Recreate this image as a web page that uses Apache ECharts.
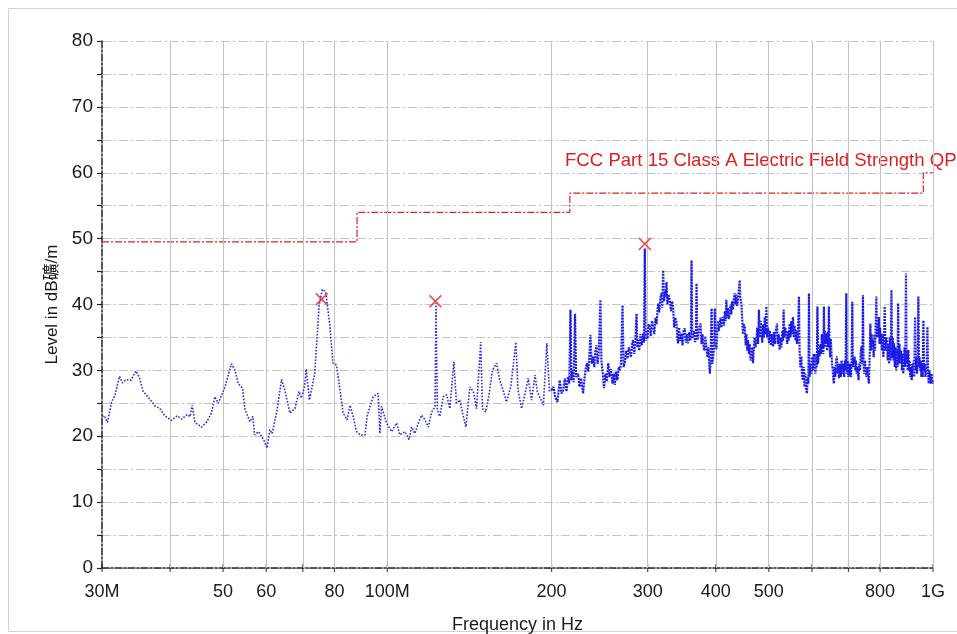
<!DOCTYPE html>
<html><head><meta charset="utf-8">
<script src="https://cdn.jsdelivr.net/npm/echarts@6/dist/echarts.min.js"></script>
<style>html,body{margin:0;padding:0;background:#fff}#c{width:957px;height:634px}</style>
</head><body><div id="c"></div>
<script>
// ---- data (frequency in MHz, level in dBµV/m) ----
const traceLow = [[30.0,23.0],[30.3,23.1],[30.7,22.1],[31.25,25.2],[31.7,26.3],[32.3,29.1],[32.7,28.1],[33.2,28.6],[33.9,28.5],[34.6,29.9],[35.1,29.0],[35.7,26.8],[36.4,26.0],[37.5,24.6],[38.3,24.2],[39.1,23.1],[40.2,22.4],[41.2,23.1],[42.0,22.6],[43.0,23.3],[43.5,23.0],[43.9,24.7],[44.4,22.1],[45.7,21.4],[46.7,22.2],[47.6,23.5],[48.3,26.0],[49.0,25.0],[50.4,27.5],[51.8,31.0],[52.6,30.0],[53.3,28.0],[54.3,27.3],[54.8,24.2],[55.4,23.2],[56.0,22.2],[56.7,23.0],[57.1,20.2],[58.1,20.7],[59.4,19.4],[60.2,18.2],[60.9,21.0],[61.5,20.4],[62.8,24.0],[64.0,28.6],[64.9,27.0],[66.3,23.5],[67.7,24.2],[68.9,26.8],[69.6,25.8],[70.5,27.5],[71.0,30.2],[72.0,25.5],[73.6,29.5],[75.0,39.9],[76.0,42.3],[77.1,41.9],[78.4,37.1],[79.5,31.1],[80.7,30.8],[81.9,27.0],[83.0,23.5],[84.4,22.5],[85.4,24.7],[86.6,23.0],[87.8,20.7],[89.3,20.2],[91.0,20.2],[91.9,23.2],[94.2,26.0],[96.2,26.5],[96.9,20.4],[97.6,24.5],[99.7,22.0],[101.8,20.7],[104.0,22.0],[105.4,20.2],[107.7,20.7],[109.6,19.5],[110.8,21.4],[112.3,20.4],[114.0,22.0],[115.6,23.2],[117.2,22.5],[118.9,21.4],[120.6,23.7],[122.3,24.5],[122.8,40.2],[123.5,24.0],[124.8,23.0],[126.6,26.0],[128.4,26.3],[130.2,24.2],[132.4,31.3],[133.9,25.0],[135.8,25.5],[137.4,23.5],[139.3,21.4],[141.7,27.5],[143.7,26.8],[145.7,24.2],[148.3,34.3],[149.4,24.2],[151.5,23.7],[153.6,26.3],[155.8,30.0],[158.5,31.1],[160.7,28.5],[163.0,27.0],[165.3,25.2],[168.4,27.5],[172.0,34.3],[173.6,27.0],[176.2,24.2],[179.4,27.0],[181.2,28.8],[183.8,25.5],[186.5,29.3],[188.3,26.8],[193.2,24.7],[196.0,34.1],[198.2,26.8],[200.0,27.0]];

const traceHigh = [[200.0,27.0],[201.6,27.5],[203,26.0],[205,25.2],[207,28.5],[208.5,26.5],[210,27.0],[211.5,28.8],[213,26.8],[214.4,29.0],
[215.5,28.0],[216.6,39.2],[217.5,28.5],[218.4,30.0],[219.5,28.2],[220.8,38.6],[221.8,29.0],[223.6,29.5],[225,27.5],[226.5,28.8],[228.4,26.5],
[230,29.0],[231.2,30.5],[232.3,31.1],[233.5,29.8],[234.5,32.0],[235.6,35.4],[236.8,31.0],[238.2,32.1],[239.5,30.5],[240.5,32.8],[241.6,33.8],[242.8,31.0],[244,32.5],[245.8,40.7],[246.8,31.5],[247.9,30.0],
[249.5,27.3],[251,29.5],[252.5,28.3],[254,31.1],[255.5,29.0],[257,30.2],[258.5,28.0],[260,29.5],[261.1,27.8],[262.5,29.8],[264,28.5],[265.5,30.5],[266.7,30.0],[268,31.0],[269.8,39.9],[271,30.5],
[272.4,31.1],[274,33.0],[275.5,31.8],[277,33.5],[278.2,33.8],[279.5,32.0],[281,34.0],[282.1,34.6],[283.5,32.5],[285,35.0],[286.2,38.6],[287.2,33.5],[288.1,34.6],[289.5,33.0],[291,35.5],[292.5,33.8],[294.3,35.6],
[295.3,34.2],[296.4,48.5],[297.4,34.5],[298.5,36.1],[299.8,34.8],[301,37.0],[302.7,36.6],[304,35.2],[305.5,37.5],[307,36.9],[308.5,35.5],[310,38.0],[311.5,37.0],
[313.5,40.2],[315,38.8],[316.5,41.0],[318,41.7],[319,39.5],[320.2,45.2],[321.5,40.5],[322.5,42.0],[323.8,41.2],[324.8,43.4],[326,40.0],[327.5,41.5],[329.3,40.7],[331,39.0],[332.5,40.5],[333.9,39.7],
[335.5,36.5],[337,38.0],[338.7,37.4],[340,35.0],[341,34.1],[342.5,36.5],[344,34.5],[345.9,35.6],[347.5,33.8],[349,36.0],[350.8,36.4],[352.5,34.2],[354,35.5],[355.8,34.1],
[357.5,35.8],[359,34.5],[360,35.4],[361,46.7],[362,34.8],[363.4,35.1],[365,36.0],[366.5,34.3],[367.8,35.5],[368.7,43.2],[369.8,34.6],[371.2,35.1],[372.5,36.2],
[375,37.1],[376.5,34.0],[378,35.5],[379.2,34.1],[381,33.0],[382.5,35.2],[384.6,35.1],[386,32.0],[387.5,33.5],[388.9,31.1],[390,29.5],[391.2,31.5],[392.8,39.4],[394,31.0],[395.4,32.1],[397,33.5],[398.3,39.4],[399.5,34.0],[401,33.2],
[402.2,35.6],[403.8,37.5],[405,36.0],[406.5,36.1],[408,38.0],[409.5,36.5],[411,37.5],[412.2,38.1],[414,36.8],[415.5,39.0],[416.8,37.5],[418.1,40.7],[419.5,38.0],[421,39.5],[422.5,37.8],[424,38.6],[425.5,40.0],[427,38.5],[428.5,40.5],[430,39.2],[431.5,40.8],
[433,41.7],[434.5,40.0],[436,41.5],[437.5,39.8],[439.2,40.7],[440.5,42.0],[442.3,43.7],[443.5,41.0],[445.5,40.2],
[447,38.0],[448.5,35.5],[450,37.0],[451.8,36.6],[453.5,33.8],[455,35.5],[456.5,33.0],[458.2,34.6],[460,32.5],[461.5,34.0],[463,31.5],[464.7,32.1],[466.5,33.5],[467.9,31.1],
[469.5,33.5],[471,35.0],[473,33.5],[474.6,34.6],[476.5,36.5],[478,34.0],[479.8,39.2],[481.2,35.0],[483,37.5],[484.7,36.1],[486.5,34.2],[488,37.0],[489.8,35.0],[491.6,38.1],[493.5,35.5],[495.1,39.7],[496.8,35.0],[498.5,36.5],[500.6,34.1],[502.5,36.0],[504.5,33.8],[506.5,35.5],[509.1,33.6],[511,35.8],[513,34.0],[515,36.0],[517.9,37.1],[519.5,34.0],[521.5,35.5],[523.5,33.1],
[525.5,35.0],[527.5,33.5],[529.5,36.0],[531,34.5],[532.4,39.2],[534,35.0],[536,36.5],[538.5,35.6],[540.5,34.0],[542.5,36.0],[544,34.5],[546.1,37.1],[548,35.0],[550,37.5],[552,35.5],[553.8,38.1],[556,35.0],[558,36.8],[560,34.5],[561.8,36.1],[563.5,34.0],[565.5,35.5],[568,41.2],
[569.5,33.0],[571.5,30.5],[573.8,32.1],[575.5,29.0],[577.7,28.5],[579.5,30.5],[581.5,27.5],[583.5,29.5],[585.5,27.0],[587.5,26.5],[589.5,29.0],[591,28.0],[592.5,41.7],[594,29.0],[596,31.0],
[598.6,29.5],[600.5,32.0],[602.5,30.0],[604.5,32.5],[607,31.1],[609,29.5],[611,32.5],[612.5,30.5],[614,39.7],[615.8,31.0],[617.8,33.0],[619.7,32.1],
[621.5,34.0],[623.5,32.5],[625.5,35.5],[627,33.5],[628.4,34.1],[629.7,32.5],[631.1,39.7],[632.5,33.5],[634,36.0],[635.8,34.0],[637.5,35.6],[639.5,33.0],[641,35.8],[642.8,33.5],[644.5,39.7],[646,34.5],[648,32.0],[649.6,34.8],[651.1,33.1],[653,31.0],
[655,30.0],[656.7,28.5],[658.3,28.0],[660,30.5],[662,29.0],[664.5,31.5],[666.7,32.1],[668.5,29.5],[670.5,31.0],[672.5,28.8],[674.2,29.0],[676,31.0],[678,29.0],[680,31.5],[682,29.5],[683.8,31.0],[685.7,30.0],[687.5,29.0],[689.5,31.5],[691.5,30.0],[693.6,41.7],[695.5,29.5],[697.5,31.5],[699.5,29.0],[701.3,31.1],[703.5,29.2],[705.5,31.0],[707.5,29.0],[709.5,31.8],[711.4,40.4],[713.2,30.5],[715,32.0],[716.7,31.0],[718.4,32.1],[720.5,30.0],[722.5,31.5],[724.5,29.5],[726.5,30.5],[728.5,29.5],[730.5,28.5],[732.5,31.0],[735,30.0],[737,32.5],[739.1,33.6],[741,31.0],[742.5,32.5],[744.1,41.4],[746,31.0],[748,29.5],[750.5,31.5],[752.7,30.0],
[755,29.0],[757.5,30.5],[760,29.0],[763.2,28.0],[765.5,32.0],[767.7,37.1],[769.5,33.0],[771.5,35.5],[774,33.5],[776.2,34.6],[778.5,32.0],[781,35.5],[783,33.0],[785,36.5],[787.4,41.2],[789.5,35.0],[791.5,37.0],[794,35.0],[796.1,38.1],[798,34.0],[800,36.5],[802,34.0],[804.2,35.6],
[806.5,33.0],[808.5,35.5],[811,32.0],[813.5,34.5],[815.6,39.7],[818,33.0],[820.5,35.0],[823.6,34.6],[826,31.5],[828.5,34.0],[831,31.0],[833.5,35.0],[836.5,31.5],[839.2,42.2],[841.5,32.0],[844,35.0],[846,31.5],[848.5,34.1],[851,30.5],[853.5,33.5],[856,30.0],[858.5,33.0],[861,30.5],[863.2,40.2],[865.5,31.0],[868,34.0],[870,31.5],
[872.1,31.1],[874.5,33.0],[877,30.0],[879.5,32.5],[882,29.5],[884.6,31.1],[887,33.5],[889.5,30.5],[892.2,44.7],[894.5,31.0],[897,33.1],[899,30.0],[901,33.1],[903.5,30.0],[906,31.5],[908.5,29.0],[911,30.5],[914.1,28.5],
[916.5,31.0],[919,29.0],[921.5,31.5],[924,29.0],[927,38.1],[929.5,30.0],[932,32.0],[934.5,29.5],[937.5,31.5],[940.1,41.2],[942.5,30.5],[944.5,32.0],[946.9,30.0],[949.5,31.5],[952,29.0],[955,31.0],[957.5,29.0],[960.3,37.6],[963,30.0],[966,31.0],[968.5,29.0],[971.3,29.0],[974,30.5],[976.7,36.6],[979.5,29.5],[982,28.0],[985,30.0],[987.9,29.0],[991,28.0],[994,29.5],[997,28.0],[1000,28.5]];

const limitSteps = [[30,49.5],[88,54],[216,56.9],[960,60],[1000,60]];
const peaks = [[75.8,40.8],[122.5,40.5],[296.4,49.2]];
const gridFreqs = [40,50,60,70,80,100,200,300,400,500,600,700,800,1000];
const tickFreqs = [30,40,50,60,70,80,100,200,300,400,500,600,700,800,1000];
const labelFreqs = [30,50,60,80,100,200,300,400,500,800,1000];
const labelNames = {30:'30M',100:'100M',1000:'1G'};
const limitName = 'FCC Part 15 Class A Electric Field Strength QP';
const yTitle = 'Level in dB礦/m';
const xTitle = 'Frequency in Hz';

// ---- chart ----
const FONT = "'Liberation Sans', Arial, 'Noto Sans CJK JP', sans-serif";
const chart = echarts.init(document.getElementById('c'), null, {renderer:'canvas'});

const gridLines = gridFreqs.map(f => ({xAxis: f, label: {show: labelFreqs.indexOf(f) >= 0}}));
labelFreqs.forEach(f => { if (gridFreqs.indexOf(f) < 0) gridLines.push({xAxis: f, lineStyle:{color:'rgba(255,255,255,0)'}, label:{show:true}}); });

const xSymbol = 'path://M0,0.9L0.9,0L5,4.1L9.1,0L10,0.9L5.9,5L10,9.1L9.1,10L5,5.9L0.9,10L0,9.1L4.1,5Z';

chart.setOption({
  animation: false,
  backgroundColor: '#fff',
  grid: {left: 102, right: 24, top: 41, bottom: 66, containLabel: false, outerBoundsMode: 'none'},
  xAxis: {
    type: 'log', logBase: 10, min: 30, max: 1000,
    name: xTitle, nameLocation: 'middle', nameGap: 48,
    nameTextStyle: {fontFamily: FONT, fontSize: 18, color: '#1a1a1a'},
    axisLine: {show: true, onZero: false, lineStyle: {color: '#222', width: 1.5, type: [7,2,2,2]}},
    axisTick: {show: false}, axisLabel: {show: false},
    splitLine: {show: false}, minorSplitLine: {show: false}
  },
  yAxis: {
    type: 'value', min: 0, max: 80, interval: 5,
    name: yTitle, nameLocation: 'middle', nameGap: 37, nameRotate: 90,
    nameTextStyle: {fontFamily: FONT, fontSize: 17, color: '#1a1a1a'},
    axisLine: {show: true, lineStyle: {color: '#222', width: 1.5, type: [7,2,2,2]}},
    axisTick: {show: true, length: 5, lineStyle: {color: '#222', width: 1.2}},
    axisLabel: {fontFamily: FONT, fontSize: 19, color: '#1a1a1a', margin: 9,
      formatter: v => (v % 10 === 0 ? String(v) : '')},
    splitLine: {show: true, lineStyle: {color: '#c4c4c4', width: 1, type: [9,3,2,3]}}
  },
  graphic: [
    {type: 'rect', shape: {x: 8.5, y: 8.5, width: 1000, height: 623}, style: {fill: 'none', stroke: '#d2d2d2', lineWidth: 1}, silent: true, z: -1},
    {type: 'text', left: 565, top: 151, style: {text: limitName, fill: '#e02020', font: "18.6px 'Liberation Sans', Arial, sans-serif"}, silent: true}
  ],
  series: [
    {
      name: 'grid', type: 'line', data: [], z: 1, silent: true,
      markLine: {
        silent: true, symbol: ['none','none'], animation: false,
        lineStyle: {color: '#c2c2c2', width: 1, type: 'solid'},
        label: {position: 'start', distance: 15, fontFamily: FONT, fontSize: 18, color: '#1a1a1a',
          formatter: p => labelNames[p.value] || String(p.value)},
        emphasis: {disabled: true},
        data: gridLines
      }
    },
    {
      name: 'ticks', type: 'scatter', data: tickFreqs.map(f => [f, 0]), clip: false, silent: true, z: 3,
      symbol: 'rect', symbolSize: [1.2, 8], itemStyle: {color: '#222'}
    },
    {
      name: 'limit', type: 'line', step: 'end', data: limitSteps, showSymbol: false, z: 4, silent: true,
      lineStyle: {color: '#e02020', width: 1.2, type: [7,2,2,2]}
    },
    {
      name: 'traceLow', type: 'line', data: traceLow, showSymbol: false, z: 5, silent: true,
      lineStyle: {color: '#2828e6', width: 1.6, type: 'dotted'}
    },
    {
      name: 'traceHigh', type: 'line', data: traceHigh, showSymbol: false, z: 5, silent: true,
      lineStyle: {color: '#1c1ce8', width: 2.2, type: [2,1]}
    },
    {
      name: 'peaks', type: 'scatter', data: peaks, symbol: xSymbol, symbolSize: 13, z: 6, silent: true,
      itemStyle: {color: '#e8232d'}
    }
  ]
});
</script></body></html>
